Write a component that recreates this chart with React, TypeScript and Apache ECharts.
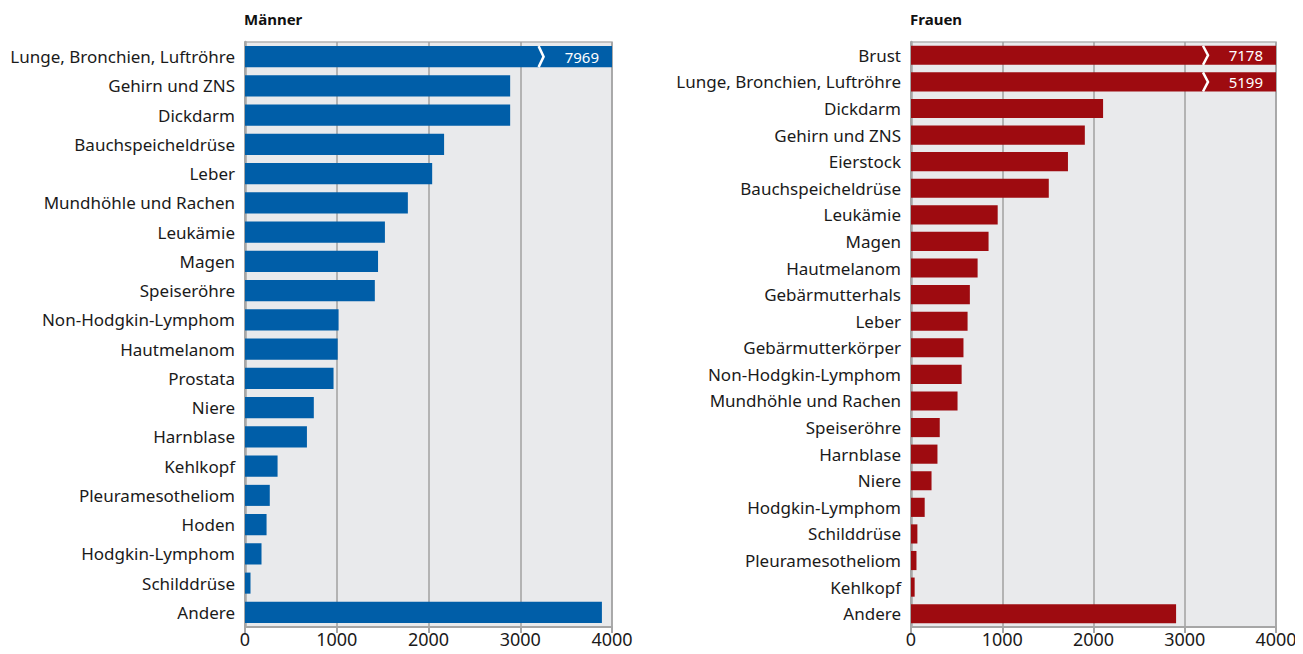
import React, { useEffect, useRef } from "react";
import * as echarts from "echarts";

const menCategories = [
  "Lunge, Bronchien, Luftröhre", "Gehirn und ZNS", "Dickdarm", "Bauchspeicheldrüse", "Leber",
  "Mundhöhle und Rachen", "Leukämie", "Magen", "Speiseröhre", "Non-Hodgkin-Lymphom",
  "Hautmelanom", "Prostata", "Niere", "Harnblase", "Kehlkopf", "Pleuramesotheliom",
  "Hoden", "Hodgkin-Lymphom", "Schilddrüse", "Andere",
];
const menValues = [7969, 2890, 2890, 2170, 2040, 1775, 1525, 1450, 1415, 1020, 1010, 965, 750, 675, 355, 270, 235, 180, 60, 3890];

const womenCategories = [
  "Brust", "Lunge, Bronchien, Luftröhre", "Dickdarm", "Gehirn und ZNS", "Eierstock",
  "Bauchspeicheldrüse", "Leukämie", "Magen", "Hautmelanom", "Gebärmutterhals", "Leber",
  "Gebärmutterkörper", "Non-Hodgkin-Lymphom", "Mundhöhle und Rachen", "Speiseröhre",
  "Harnblase", "Niere", "Hodgkin-Lymphom", "Schilddrüse", "Pleuramesotheliom", "Kehlkopf", "Andere",
];
const womenValues = [7178, 5199, 2105, 1905, 1720, 1510, 950, 850, 730, 645, 620, 575, 555, 510, 315, 290, 225, 150, 70, 60, 40, 2905];

const axisMax = 4000;
const axisTicks = [0, 1000, 2000, 3000, 4000];
const breakAt = 3200;

const FONT = "'Noto Sans', 'Open Sans', sans-serif";
const BLUE = "#005ea8";
const RED = "#9e0b10";
const BAR_RATIO = 0.72;

function barData(values: number[]) {
  return values.map((v) => {
    if (v > axisMax) {
      return {
        value: axisMax,
        label: {
          show: true,
          position: "insideRight",
          distance: 13,
          formatter: String(v),
          color: "#ffffff",
          fontSize: 15,
          fontFamily: FONT,
        },
      };
    }
    return { value: v };
  });
}

function breakData(values: number[]) {
  const out: number[][] = [];
  values.forEach((v, i) => {
    if (v > axisMax) out.push([breakAt, i]);
  });
  return out;
}

const renderBreak = (params: any, api: any) => {
  const p = api.coord([api.value(0), api.value(1)]);
  const band = api.size([0, 1])[1];
  const h = band * BAR_RATIO;
  return {
    type: "polyline",
    shape: {
      points: [
        [p[0], p[1] - h / 2],
        [p[0] + 5, p[1]],
        [p[0], p[1] + h / 2],
      ],
    },
    style: { stroke: "#ffffff", lineWidth: 2.5, fill: "none" },
  };
};

function xAxisCfg(gridIndex: number) {
  return {
    type: "value",
    gridIndex,
    min: 0,
    max: axisMax,
    interval: 1000,
    axisLine: { show: true, lineStyle: { color: "#a6a6a6", width: 2 } },
    axisTick: { show: true, length: 6, lineStyle: { color: "#a6a6a6", width: 2 } },
    axisLabel: {
      color: "#1a1a1a",
      fontSize: 18,
      fontFamily: FONT,
      margin: 3,
      formatter: (v: number) => (axisTicks.includes(v) ? String(v) : ""),
    },
    splitLine: { show: true, lineStyle: { color: "#a0a0a0", width: 1.5 } },
  };
}

function yAxisCfg(gridIndex: number, cats: string[]) {
  return {
    type: "category",
    gridIndex,
    data: cats,
    inverse: true,
    axisLine: { show: true, lineStyle: { color: "#a6a6a6", width: 2.5 } },
    axisTick: { show: false },
    axisLabel: { color: "#1a1a1a", fontSize: 17, fontFamily: FONT, margin: 10, padding: [0, 0, 5, 0] },
    splitLine: { show: false },
  };
}

export default function App() {
  const ref = useRef<HTMLDivElement>(null);
  useEffect(() => {
    if (!ref.current) return;
    const chart = echarts.init(ref.current, undefined, { renderer: "svg" });
    chart.setOption({
      animation: false,
      backgroundColor: "#ffffff",
      title: [
        { text: "Männer", left: 244, top: 11, padding: 0, textStyle: { fontSize: 15, fontWeight: "bold", color: "#111", fontFamily: FONT } },
        { text: "Frauen", left: 910, top: 11, padding: 0, textStyle: { fontSize: 15, fontWeight: "bold", color: "#111", fontFamily: FONT } },
      ],
      grid: [
        { left: 245, right: 691, top: 42, bottom: 27, show: true, backgroundColor: "#e9eaec", borderColor: "#b3b3b3", borderWidth: 1.5 },
        { left: 911, right: 27, top: 42, bottom: 27, show: true, backgroundColor: "#e9eaec", borderColor: "#b3b3b3", borderWidth: 1.5 },
      ],
      xAxis: [xAxisCfg(0), xAxisCfg(1)],
      yAxis: [yAxisCfg(0, menCategories), yAxisCfg(1, womenCategories)],
      series: [
        {
          type: "bar",
          xAxisIndex: 0,
          yAxisIndex: 0,
          data: barData(menValues),
          barCategoryGap: "28%",
          itemStyle: { color: BLUE },
        },
        {
          type: "bar",
          xAxisIndex: 1,
          yAxisIndex: 1,
          data: barData(womenValues),
          barCategoryGap: "28%",
          itemStyle: { color: RED },
        },
        {
          type: "custom",
          xAxisIndex: 0,
          yAxisIndex: 0,
          data: breakData(menValues),
          renderItem: renderBreak,
          z: 5,
        },
        {
          type: "custom",
          xAxisIndex: 1,
          yAxisIndex: 1,
          data: breakData(womenValues),
          renderItem: renderBreak,
          z: 5,
        },
      ],
    });
    return () => chart.dispose();
  }, []);
  return <div ref={ref} style={{ width: 1303, height: 654, margin: -8 }} />;
}
